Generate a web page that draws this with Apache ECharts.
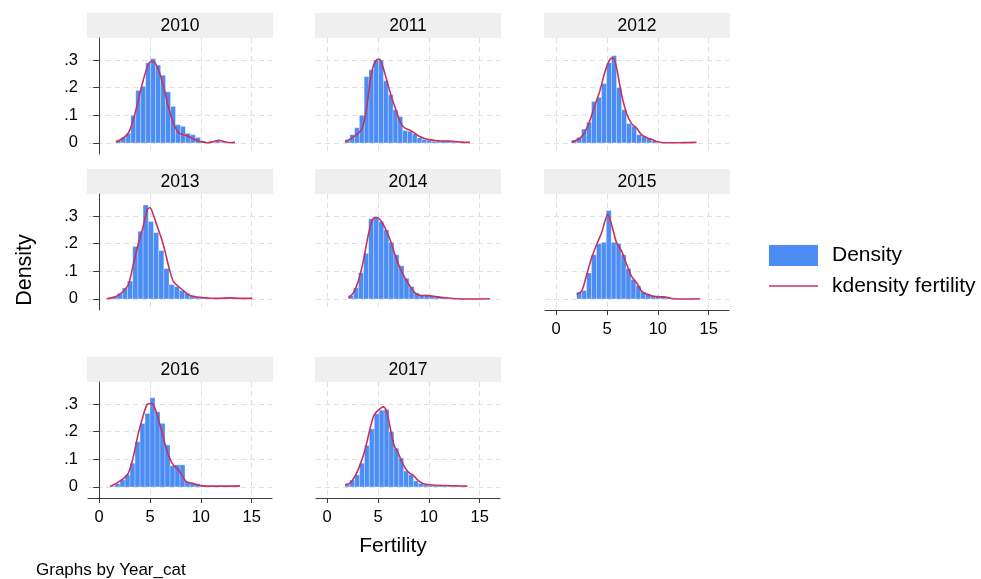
<!DOCTYPE html>
<html>
<head>
<meta charset="utf-8">
<script src="https://cdn.jsdelivr.net/npm/echarts@6/dist/echarts.min.js"></script>
<style>
  html, body { margin: 0; padding: 0; background: #ffffff; }
  #chart { width: 981px; height: 579px; }
</style>
</head>
<body>
<div id="chart"></div>
<script>
// Panels, one per year
const years = ['2010', '2011', '2012', '2013', '2014', '2015', '2016', '2017'];

// Axis tick values
const xTicks = [0, 5, 10, 15];
const yTicks = [0, 0.1, 0.2, 0.3];

// Histogram bins: first bin edge and bin width for each year
const binStart = [1.65, 1.75, 1.52, 0.75, 2.09, 2.02, 1.07, 1.75];
const binWidth = [0.488, 0.473, 0.491, 0.51, 0.497, 0.485, 0.4915, 0.481];

// Histogram densities per bin
const density2010 = [0.010, 0.020, 0.035, 0.100, 0.190, 0.205, 0.290, 0.305, 0.282, 0.245, 0.185, 0.132, 0.066, 0.060, 0.035, 0.030, 0.020, 0.008, 0.003, 0.000, 0.010, 0.003, 0.000, 0.003];
const density2011 = [0.012, 0.030, 0.055, 0.100, 0.240, 0.265, 0.300, 0.300, 0.225, 0.175, 0.120, 0.095, 0.045, 0.042, 0.033, 0.018, 0.012, 0.010, 0.006, 0.006, 0.008, 0.008, 0.004, 0.003, 0.002, 0.001];
const density2012 = [0.010, 0.020, 0.050, 0.075, 0.150, 0.165, 0.215, 0.290, 0.316, 0.200, 0.120, 0.070, 0.060, 0.030, 0.024, 0.017, 0.008, 0.002, 0.000, 0.001, 0.000, 0.000, 0.000, 0.000, 0.001];
const density2013 = [0.003, 0.008, 0.020, 0.040, 0.065, 0.190, 0.245, 0.340, 0.280, 0.240, 0.175, 0.110, 0.052, 0.045, 0.030, 0.020, 0.012, 0.007, 0.005, 0.003, 0.002, 0.002, 0.001, 0.002, 0.001, 0.001, 0.001, 0.001];
const density2014 = [0.013, 0.040, 0.095, 0.165, 0.290, 0.295, 0.280, 0.250, 0.205, 0.160, 0.120, 0.075, 0.045, 0.022, 0.014, 0.015, 0.012, 0.009, 0.006, 0.004, 0.002, 0.002, 0.001, 0.001, 0.001, 0.001, 0.001, 0.001];
const density2015 = [0.025, 0.030, 0.094, 0.160, 0.200, 0.205, 0.320, 0.205, 0.200, 0.160, 0.110, 0.070, 0.048, 0.025, 0.018, 0.012, 0.010, 0.010, 0.006, 0.001, 0.000, 0.000, 0.000, 0.001, 0.001];
const density2016 = [0.003, 0.012, 0.026, 0.044, 0.086, 0.164, 0.230, 0.266, 0.323, 0.272, 0.230, 0.152, 0.077, 0.080, 0.080, 0.018, 0.014, 0.012, 0.005, 0.003, 0.001, 0.001, 0.001, 0.001, 0.001, 0.001];
const density2017 = [0.008, 0.025, 0.044, 0.086, 0.150, 0.210, 0.265, 0.278, 0.280, 0.200, 0.140, 0.105, 0.058, 0.045, 0.022, 0.012, 0.008, 0.006, 0.004, 0.004, 0.003, 0.003, 0.002, 0.002, 0.002];

// Kernel density estimates: [fertility, density]
const kde2010 = [[1.65,0.003],[2.37,0.018],[2.87,0.036],[3.36,0.084],[3.85,0.156],[4.34,0.228],[4.83,0.284],[5.16,0.296],[5.49,0.290],[5.91,0.258],[6.37,0.198],[6.80,0.132],[7.29,0.072],[7.79,0.038],[8.28,0.030],[8.77,0.024],[9.26,0.014],[9.90,0.005],[10.6,0.001],[11.2,0.004],[11.8,0.010],[12.4,0.004],[12.9,0.001],[13.36,0.002]];
const kde2011 = [[1.75,0.003],[2.30,0.015],[2.90,0.030],[3.40,0.050],[3.70,0.090],[4.00,0.160],[4.30,0.240],[4.60,0.285],[4.90,0.302],[5.15,0.303],[5.40,0.285],[5.80,0.235],[6.30,0.170],[6.80,0.115],[7.20,0.075],[7.60,0.055],[8.10,0.047],[8.50,0.038],[9.00,0.025],[9.50,0.017],[10.0,0.012],[10.6,0.009],[11.2,0.007],[11.8,0.007],[12.4,0.006],[13.2,0.003],[14.05,0.002]];
const kde2012 = [[1.52,0.003],[2.34,0.017],[2.83,0.040],[3.33,0.083],[3.82,0.138],[4.31,0.190],[4.80,0.258],[5.30,0.303],[5.62,0.307],[5.95,0.270],[6.44,0.174],[6.93,0.107],[7.42,0.070],[7.92,0.053],[8.41,0.029],[8.90,0.019],[9.39,0.013],[9.88,0.005],[10.5,0.001],[12.0,0.001],[13.8,0.002]];
const kde2013 = [[0.75,0.001],[1.72,0.010],[2.37,0.028],[2.87,0.052],[3.36,0.125],[3.85,0.200],[4.34,0.264],[4.74,0.324],[5.00,0.330],[5.32,0.305],[5.65,0.270],[6.14,0.217],[6.47,0.173],[6.96,0.100],[7.29,0.064],[7.78,0.046],[8.28,0.030],[8.93,0.013],[9.59,0.007],[10.57,0.004],[11.6,0.002],[12.87,0.004],[13.9,0.002],[15.07,0.002]];
const kde2014 = [[2.09,0.004],[2.57,0.022],[3.06,0.064],[3.55,0.137],[4.05,0.233],[4.47,0.288],[4.80,0.296],[5.19,0.288],[5.68,0.258],[6.18,0.215],[6.67,0.161],[7.16,0.112],[7.65,0.076],[8.15,0.046],[8.64,0.022],[9.13,0.013],[9.79,0.012],[10.44,0.010],[11.4,0.005],[12.7,0.001],[14.3,0.000],[16.0,0.001]];
const kde2015 = [[2.02,0.016],[2.50,0.028],[3.00,0.088],[3.49,0.149],[3.98,0.197],[4.47,0.240],[4.80,0.282],[5.06,0.306],[5.30,0.288],[5.62,0.246],[5.95,0.203],[6.44,0.173],[6.93,0.125],[7.42,0.082],[7.92,0.058],[8.41,0.028],[8.90,0.018],[9.55,0.010],[10.2,0.008],[10.87,0.006],[11.5,0.001],[12.8,0.000],[14.15,0.001]];
const kde2016 = [[1.07,0.002],[1.72,0.014],[2.37,0.030],[2.87,0.050],[3.36,0.110],[3.85,0.194],[4.34,0.260],[4.74,0.299],[5.16,0.302],[5.49,0.285],[5.98,0.224],[6.37,0.170],[6.80,0.116],[7.29,0.080],[7.79,0.062],[8.21,0.038],[8.60,0.018],[9.10,0.014],[9.59,0.008],[10.24,0.004],[11.5,0.003],[12.8,0.003],[13.85,0.004]];
const kde2017 = [[1.75,0.008],[2.24,0.014],[2.73,0.038],[3.23,0.080],[3.72,0.134],[4.21,0.210],[4.61,0.260],[5.03,0.278],[5.52,0.290],[5.85,0.272],[6.18,0.218],[6.57,0.152],[7.00,0.122],[7.49,0.080],[7.98,0.054],[8.47,0.042],[8.97,0.023],[9.46,0.012],[10.1,0.008],[11.4,0.005],[12.7,0.004],[13.78,0.003]];

const densities = [density2010, density2011, density2012, density2013, density2014, density2015, density2016, density2017];
const kdes = [kde2010, kde2011, kde2012, kde2013, kde2014, kde2015, kde2016, kde2017];

// Page layout
const BAR_COLOR = '#4b8df5';
const LINE_COLOR = '#c8325a';
const GRID_COLOR = '#e0e0e0';
const AXIS_COLOR = '#3a3a3a';
const FONT = '"Liberation Sans", Arial, Helvetica, sans-serif';
const colLeft = [88, 316, 545];
const rowTop = [38, 194, 382];
const plotW = 184, plotH = 116, headH = 25;

const chart = echarts.init(document.getElementById('chart'), null, { renderer: 'canvas' });

const grids = [], xAxes = [], yAxes = [], series = [], graphics = [];

years.forEach((yr, i) => {
  const col = i % 3, row = Math.floor(i / 3);
  const left = colLeft[col], top = rowTop[row];
  const showX = i >= 5;
  const showY = col === 0;

  grids.push({ left: left, top: top, width: plotW, height: plotH, containLabel: false });

  xAxes.push({
    gridIndex: i, type: 'value', min: -1.1, max: 17,
    axisLine: { show: showX, onZero: false, lineStyle: { color: AXIS_COLOR, width: 1 } },
    axisTick: { show: showX, length: 5, customValues: xTicks, lineStyle: { color: AXIS_COLOR } },
    axisLabel: { show: showX, customValues: xTicks, margin: 11, fontSize: 16.5, color: '#000', fontFamily: FONT },
    splitLine: { show: true, lineStyle: { color: GRID_COLOR, width: 1, type: [5, 4] } }
  });

  yAxes.push({
    gridIndex: i, type: 'value', min: -0.04, max: 0.38,
    axisLine: { show: showY, lineStyle: { color: AXIS_COLOR, width: 1 } },
    axisTick: { show: showY, length: 6, customValues: yTicks, lineStyle: { color: AXIS_COLOR } },
    axisLabel: {
      show: showY, customValues: yTicks, margin: 10, fontSize: 16.5, color: '#000', fontFamily: FONT,
      formatter: v => (v === 0 ? '0' : String(Math.round(v * 10) / 10).replace(/^0/, ''))
    },
    splitLine: { show: true, lineStyle: { color: GRID_COLOR, width: 1, type: [5, 4] } }
  });

  const bins = densities[i].map((h, k) => [
    +(binStart[i] + k * binWidth[i]).toFixed(4),
    +(binStart[i] + (k + 1) * binWidth[i]).toFixed(4),
    h
  ]);

  series.push({
    name: 'Density', type: 'custom', xAxisIndex: i, yAxisIndex: i,
    itemStyle: { color: BAR_COLOR },
    encode: { x: [0, 1], y: 2 },
    data: bins,
    renderItem: (params, api) => {
      const p0 = api.coord([api.value(0), api.value(2)]);
      const p1 = api.coord([api.value(1), 0]);
      return {
        type: 'rect',
        shape: { x: p0[0], y: p0[1], width: p1[0] - p0[0], height: p1[1] - p0[1] },
        style: { fill: BAR_COLOR, stroke: 'rgba(255,255,255,0.35)', lineWidth: 0.8 }
      };
    },
    z: 2
  });

  series.push({
    name: 'kdensity fertility', type: 'line', xAxisIndex: i, yAxisIndex: i,
    data: kdes[i], symbol: 'none', smooth: 0.3,
    lineStyle: { color: LINE_COLOR, width: 1.6 },
    itemStyle: { color: LINE_COLOR },
    z: 3
  });

  // Panel header strip
  graphics.push({
    type: 'rect', left: left - 1, top: top - headH,
    shape: { width: plotW + 2, height: headH },
    style: { fill: '#efefef' }, silent: true
  });
  graphics.push({
    type: 'text', x: left + plotW / 2, y: top - headH / 2 + 0.5,
    style: { text: yr, fontSize: 17.5, fontFamily: FONT, fill: '#000', align: 'center', verticalAlign: 'middle' },
    silent: true
  });
});

graphics.push({
  type: 'text', x: 393, y: 546,
  style: { text: 'Fertility', fontSize: 21, fontFamily: FONT, fill: '#000', align: 'center', verticalAlign: 'middle' }
});
graphics.push({
  type: 'text', x: 25, y: 270, rotation: Math.PI / 2,
  style: { text: 'Density', fontSize: 21.5, fontFamily: FONT, fill: '#000', align: 'center', verticalAlign: 'middle' }
});
graphics.push({
  type: 'text', x: 36, y: 570,
  style: { text: 'Graphs by Year_cat', fontSize: 17, fontFamily: FONT, fill: '#000', align: 'left', verticalAlign: 'middle' }
});

chart.setOption({
  animation: false,
  backgroundColor: '#ffffff',
  grid: grids,
  xAxis: xAxes,
  yAxis: yAxes,
  series: series,
  legend: {
    orient: 'vertical', left: 769, top: 245, padding: 0,
    itemWidth: 49, itemHeight: 21, itemGap: 9.5,
    selectedMode: false,
    textStyle: { fontSize: 21, fontFamily: FONT, color: '#000', padding: [0, 0, 0, 9] },
    data: [
      { name: 'Density', icon: 'rect', itemStyle: { color: BAR_COLOR } },
      { name: 'kdensity fertility', icon: 'path://M0,0H100V3.4H0Z', itemStyle: { color: LINE_COLOR } }
    ]
  },
  graphic: graphics
});
</script>
</body>
</html>
